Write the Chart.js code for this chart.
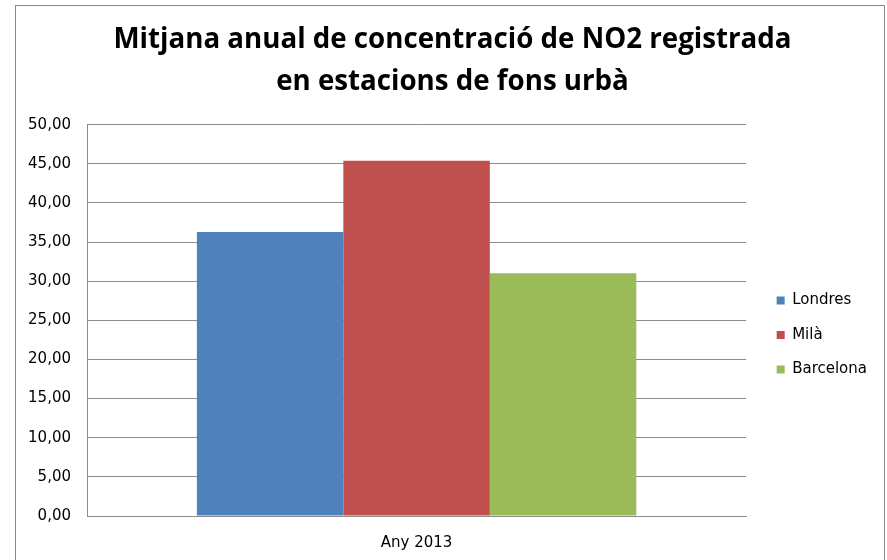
<!DOCTYPE html>
<html>
<head>
<meta charset="utf-8">
<script src="https://cdn.jsdelivr.net/npm/chart.js@4.4.1/dist/chart.umd.min.js"></script>
<style>
  body { margin: 0; background: #fff; }
  #wrap { position: relative; width: 887px; height: 560px; }
  #frame { position: absolute; left: 15px; top: 5px; width: 868px; height: 556px; border: 1px solid #888; pointer-events: none; }
</style>
</head>
<body>
<div id="wrap">
  <canvas id="chart" width="887" height="560"></canvas>
  <div id="frame"></div>
</div>
<script>
const titleLines = ["Mitjana anual de concentració de NO2 registrada", "en estacions de fons urbà"];
const categories = ["Any 2013"];
const londres = [36.3];
const mila = [45.4];
const barcelona = [31.0];

const gridColor = "#8c8c8c";
const tickFont = { family: "DejaVu Sans", size: 15 };

new Chart(document.getElementById("chart"), {
  type: "bar",
  data: {
    labels: categories,
    datasets: [
      { label: "Londres", data: londres, backgroundColor: "#4f81bd" },
      { label: "Milà", data: mila, backgroundColor: "#c0504d" },
      { label: "Barcelona", data: barcelona, backgroundColor: "#9bbb59" }
    ]
  },
  options: {
    responsive: false,
    animation: false,
    categoryPercentage: 2 / 3,
    barPercentage: 1,
    layout: { padding: { left: 28, right: 10, top: 0, bottom: 9 } },
    plugins: {
      title: {
        display: true,
        text: titleLines,
        color: "#000",
        font: { family: "Open Sans", size: 27.7, weight: "bold", lineHeight: 1.51 },
        padding: { top: 19, bottom: 22 }
      },
      legend: {
        position: "right",
        maxWidth: 128,
        // empty legend title only pushes the items down to where the original has them
        title: { display: true, text: " ", font: { size: 1, lineHeight: 1 }, padding: { top: 118, bottom: 0 } },
        labels: {
          boxWidth: 8,
          boxHeight: 8,
          padding: 19.5,
          color: "#000",
          font: { family: "DejaVu Sans", size: 15 }
        }
      },
      tooltip: { enabled: false }
    },
    scales: {
      x: {
        grid: { display: false, drawTicks: false },
        border: { color: gridColor },
        ticks: { color: "#000", font: tickFont, padding: 18 },
        afterFit: s => { s.height = 35; }
      },
      y: {
        min: 0,
        max: 50,
        grid: { color: gridColor, drawTicks: false },
        border: { color: gridColor },
        ticks: {
          stepSize: 5,
          color: "#000",
          font: tickFont,
          padding: 16,
          callback: v => v.toFixed(2).replace(".", ",")
        },
        afterFit: s => { s.width = 59; }
      },
      gap: {
        position: "right",
        grid: { display: false, drawTicks: false },
        border: { display: false },
        ticks: { display: false },
        afterFit: s => { s.width = 11; }
      }
    }
  }
});
</script>
</body>
</html>
